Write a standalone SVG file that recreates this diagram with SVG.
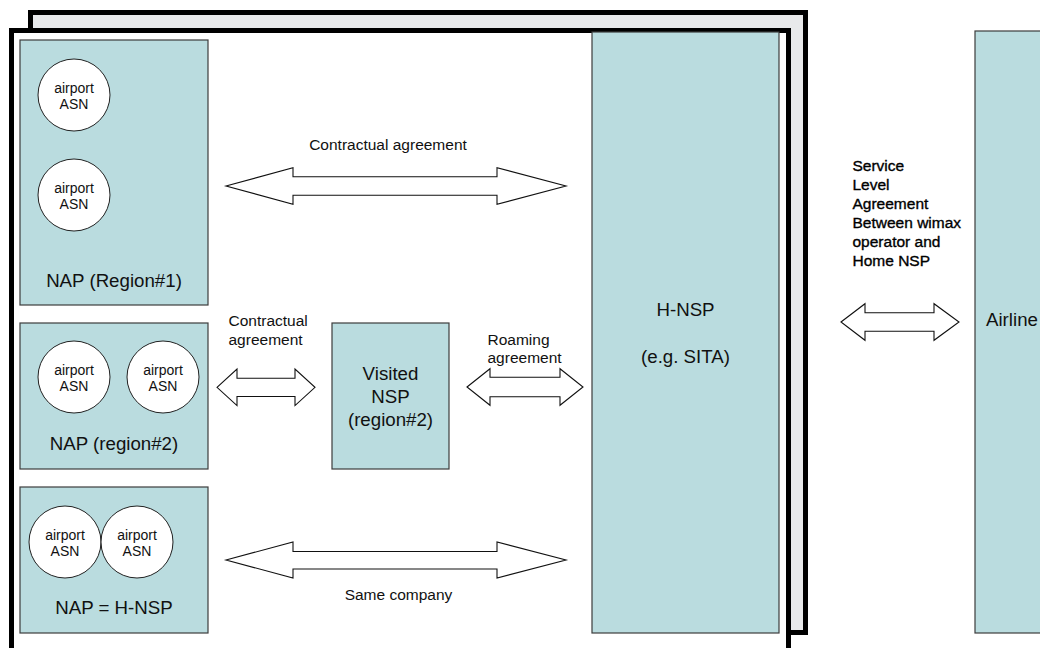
<svg xmlns="http://www.w3.org/2000/svg" width="1040" height="648" viewBox="0 0 1040 648">
<style>
text{font-family:"Liberation Sans",Arial,sans-serif;fill:#111}
.box{fill:#badcdf;stroke:#3c3c3c;stroke-width:1.2}
.asn{fill:#fff;stroke:#222;stroke-width:1}
.t14{font-size:14px;text-anchor:middle}
.big{font-size:18.7px;text-anchor:middle}
.lbl{font-size:15.5px}
.sla{fill:#000;stroke:#000;stroke-width:0.35}
.arr{fill:#fff;stroke:#111;stroke-width:1.1;stroke-linejoin:miter}
</style>
<rect width="1040" height="648" fill="#fff"/>
<g id="back-frame"><rect x="30.5" y="12.5" width="775" height="620" fill="#e8e9eb" stroke="#000" stroke-width="5"/></g>
<g id="front-frame"><rect x="11.5" y="30.5" width="777" height="700" fill="#fff" stroke="#000" stroke-width="5"/></g>

<g id="nap1">
<rect class="box" x="20" y="40" width="188" height="265"/>
<circle class="asn" cx="74" cy="95" r="36"/>
<text class="t14" x="74" y="93">airport</text><text class="t14" x="74" y="109">ASN</text>
<circle class="asn" cx="74" cy="195" r="36"/>
<text class="t14" x="74" y="193">airport</text><text class="t14" x="74" y="209">ASN</text>
<text class="big" x="114" y="287">NAP (Region#1)</text>
</g>

<g id="nap2">
<rect class="box" x="20" y="323" width="188" height="146"/>
<circle class="asn" cx="74" cy="377" r="36"/>
<text class="t14" x="74" y="375">airport</text><text class="t14" x="74" y="391">ASN</text>
<circle class="asn" cx="163" cy="377" r="36"/>
<text class="t14" x="163" y="375">airport</text><text class="t14" x="163" y="391">ASN</text>
<text class="big" x="114" y="450">NAP (region#2)</text>
</g>

<g id="nap3">
<rect class="box" x="20" y="487" width="188" height="146"/>
<circle class="asn" cx="65" cy="542" r="36"/>
<text class="t14" x="65" y="540">airport</text><text class="t14" x="65" y="556">ASN</text>
<circle class="asn" cx="137" cy="542" r="36"/>
<text class="t14" x="137" y="540">airport</text><text class="t14" x="137" y="556">ASN</text>
<text class="big" x="114" y="614">NAP = H-NSP</text>
</g>

<g id="visited-nsp">
<rect class="box" x="332" y="323" width="117" height="146"/>
<text class="big" x="390.5" y="380">Visited</text>
<text class="big" x="390.5" y="403">NSP</text>
<text class="big" x="390.5" y="426">(region#2)</text>
</g>

<g id="h-nsp">
<rect class="box" x="592" y="32" width="187" height="601"/>
<text class="big" x="685.5" y="316">H-NSP</text>
<text class="big" x="685.5" y="363">(e.g. SITA)</text>
</g>

<g id="airline">
<rect class="box" x="975" y="31" width="80" height="602"/>
<text class="big" x="986" y="326" style="text-anchor:start">Airline</text>
</g>

<g id="connectors">
<polygon class="arr" points="226,186 293,167.7 293,176.7 497,176.7 497,167.7 566,186 497,204.3 497,195.3 293,195.3 293,204.3"/>
<polygon class="arr" points="217,387.3 237,369 237,378.2 295,378.2 295,369 315,387.3 295,405.6 295,396.5 237,396.5 237,405.6"/>
<polygon class="arr" points="467,387 490,368.7 490,377.3 560,377.3 560,368.7 583,387 560,405.3 560,396.7 490,396.7 490,405.3"/>
<polygon class="arr" points="226,560 293,542 293,551.5 497,551.5 497,542 566,560 497,578 497,569 293,569 293,578"/>
<polygon class="arr" points="841,322 865,303.7 865,312.8 934,312.8 934,303.7 959,322 934,340.3 934,331.2 865,331.2 865,340.3"/>
</g>

<g id="labels">
<text class="lbl" x="388" y="150" text-anchor="middle">Contractual agreement</text>
<text class="lbl" x="228.5" y="326">Contractual</text>
<text class="lbl" x="228.5" y="345">agreement</text>
<text class="lbl" x="487.5" y="345">Roaming</text>
<text class="lbl" x="487.5" y="363">agreement</text>
<text class="lbl" x="398.5" y="600" text-anchor="middle">Same company</text>
<text class="lbl sla" x="852.5" y="171">Service</text>
<text class="lbl sla" x="852.5" y="190">Level</text>
<text class="lbl sla" x="852.5" y="209">Agreement</text>
<text class="lbl sla" x="852.5" y="228">Between wimax</text>
<text class="lbl sla" x="852.5" y="247">operator and</text>
<text class="lbl sla" x="852.5" y="266">Home NSP</text>
</g>
</svg>
